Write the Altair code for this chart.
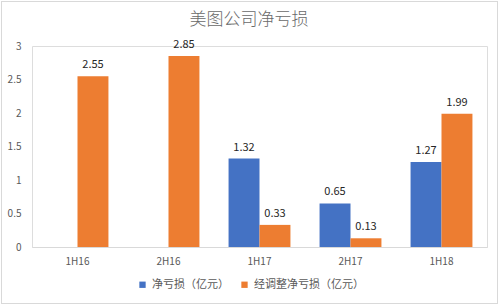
import altair as alt
import pandas as pd

chart_title = "美图公司净亏损"
periods = ["1H16", "2H16", "1H17", "2H17", "1H18"]
net_loss = [None, None, 1.32, 0.65, 1.27]
adj_loss = [2.55, 2.85, 0.33, 0.13, 1.99]
series_names = ["净亏损（亿元）", "经调整净亏损（亿元）"]
colors = ["#4472C4", "#ED7D31"]
y_ticks = [0, 0.5, 1, 1.5, 2, 2.5, 3]

rows = []
for p, a, b in zip(periods, net_loss, adj_loss):
    rows.append({"period": p, "series": series_names[0], "value": a})
    rows.append({"period": p, "series": series_names[1], "value": b})
df = pd.DataFrame(rows)

FONT = "Noto Sans CJK SC"

base = alt.Chart(df).encode(
    x=alt.X("period:N", sort=periods, title=None,
            scale=alt.Scale(paddingInner=0.32, paddingOuter=0.16),
            axis=alt.Axis(labelAngle=0, ticks=False, domainColor="#d9d9d9",
                          labelColor="#595959", labelFontSize=10, labelPadding=9,
                          labelFont=FONT)),
    xOffset=alt.XOffset("series:N", sort=series_names),
    y=alt.Y("value:Q", title=None,
            scale=alt.Scale(domain=[0, 3], nice=False),
            axis=alt.Axis(values=y_ticks, grid=False, labelOverlap=False,
                          labelExpr="format(datum.value, '~g')",
                          domain=False, ticks=False, labelColor="#595959", labelFontSize=10,
                          labelPadding=11, labelFont=FONT)),
)

bars = base.mark_bar().encode(
    color=alt.Color("series:N", sort=series_names,
                    scale=alt.Scale(domain=series_names, range=colors),
                    legend=alt.Legend(title=None, orient="none", direction="horizontal",
                                      legendX=105, legendY=233, symbolType="square",
                                      symbolSize=40, labelFontSize=11, labelColor="#595959",
                                      labelFont=FONT, columnPadding=10, symbolStrokeWidth=0)),
)

labels = base.mark_text(dy=-11, fontSize=11, color="#262626", font=FONT).encode(
    text=alt.Text("value:Q", format=".2f"),
)

border = alt.Chart(df).mark_rect(fill=None, stroke="#d9d9d9", strokeWidth=1).encode(
    x=alt.value(-30.5), x2=alt.value(465.5), y=alt.value(-44.5), y2=alt.value(257.5)
)

title_mark = alt.Chart(pd.DataFrame({"t": [chart_title]})).mark_text(
    fontSize=17, color="#6a6a6a", font=FONT, fontWeight=300,
    baseline="middle", align="center"
).encode(x=alt.value(217), y=alt.value(-26), text="t:N")

chart = alt.layer(border, bars, labels, title_mark).properties(
    width=455, height=201,
    autosize=alt.AutoSizeParams(type="none"),
    padding={"left": 32, "top": 46, "right": 12, "bottom": 58},
).configure_view(stroke=None).configure(background="white")

chart.save("out.html", embed_options={"renderer": "svg", "actions": False})
